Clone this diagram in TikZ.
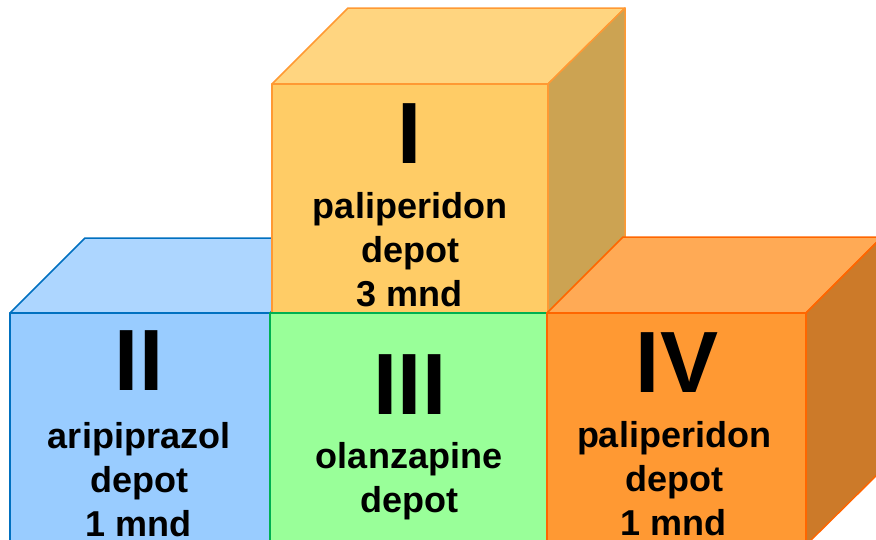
\documentclass[tikz,border=0pt]{standalone}
\usepackage{fontspec}
\setmainfont{Liberation Sans}

\definecolor{goldfront}{HTML}{FFCC66}
\definecolor{goldtop}{HTML}{FFD580}
\definecolor{goldside}{HTML}{CCA352}
\definecolor{goldedge}{HTML}{FF9933}
\definecolor{bluefront}{HTML}{99CCFF}
\definecolor{bluetop}{HTML}{ADD6FF}
\definecolor{blueedge}{HTML}{0070C0}
\definecolor{greenfront}{HTML}{99FF99}
\definecolor{greenedge}{HTML}{00B050}
\definecolor{orangefront}{HTML}{FF9933}
\definecolor{orangetop}{HTML}{FFAA55}
\definecolor{orangeside}{HTML}{CC7A29}
\definecolor{orangeedge}{HTML}{FF6600}

\tikzset{
  face/.style={line width=1.5pt, line join=round},
  numtext/.style={font=\fontsize{87}{87}\selectfont\bfseries, anchor=base, inner sep=0pt},
  bodytext/.style={font=\fontsize{36}{44}\selectfont\bfseries, anchor=base, align=center, inner sep=0pt}
}

\begin{document}
\begin{tikzpicture}[x=1pt, y=-1pt]
\useasboundingbox (0,0) rectangle (876,539);
\clip (0,0) rectangle (876,539);
% cube II (blue)
\filldraw[face, draw=blueedge, fill=bluetop] (10,313) -- (85,238) -- (346,238) -- (270,313) -- cycle;
\filldraw[face, draw=blueedge, fill=bluefront] (10,313) rectangle (270,545);
% cube I (gold, on top)
\filldraw[face, draw=goldedge, fill=goldtop] (272,84) -- (348,8) -- (625,8) -- (548,84) -- cycle;
\filldraw[face, draw=goldedge, fill=goldside] (548,84) -- (625,8) -- (625,237) -- (548,313) -- cycle;
\filldraw[face, draw=goldedge, fill=goldfront] (272,84) rectangle (548,313);
% cube III (green)
\filldraw[face, draw=greenedge, fill=greenfront] (270,313) rectangle (547,545);
% cube IV (orange)
\filldraw[face, draw=orangeedge, fill=orangetop] (547,313) -- (623,237) -- (882,237) -- (806,313) -- cycle;
\filldraw[face, draw=orangeedge, fill=orangeside] (806,313) -- (882,237) -- (882,470) -- (806,545) -- cycle;
\filldraw[face, draw=orangeedge, fill=orangefront] (547,313) rectangle (806,545);
% labels (base = last line)
\node[numtext] (numI) at (410,163) {I};
\node[bodytext] (txtI) at (410,306) {paliperidon\\depot\\3 mnd};
\node[numtext] (numII) at (139,390) {II};
\node[bodytext] (txtII) at (139,536) {aripiprazol\\depot\\1 mnd};
\node[numtext] (numIII) at (410,414) {III};
\node[bodytext] (txtIII) at (409,512) {olanzapine\\depot};
\node[numtext] (numIV) at (677,392) {IV};
\node[bodytext] (txtIV) at (674,535) {paliperidon\\depot\\1 mnd};
\end{tikzpicture}
\end{document}
